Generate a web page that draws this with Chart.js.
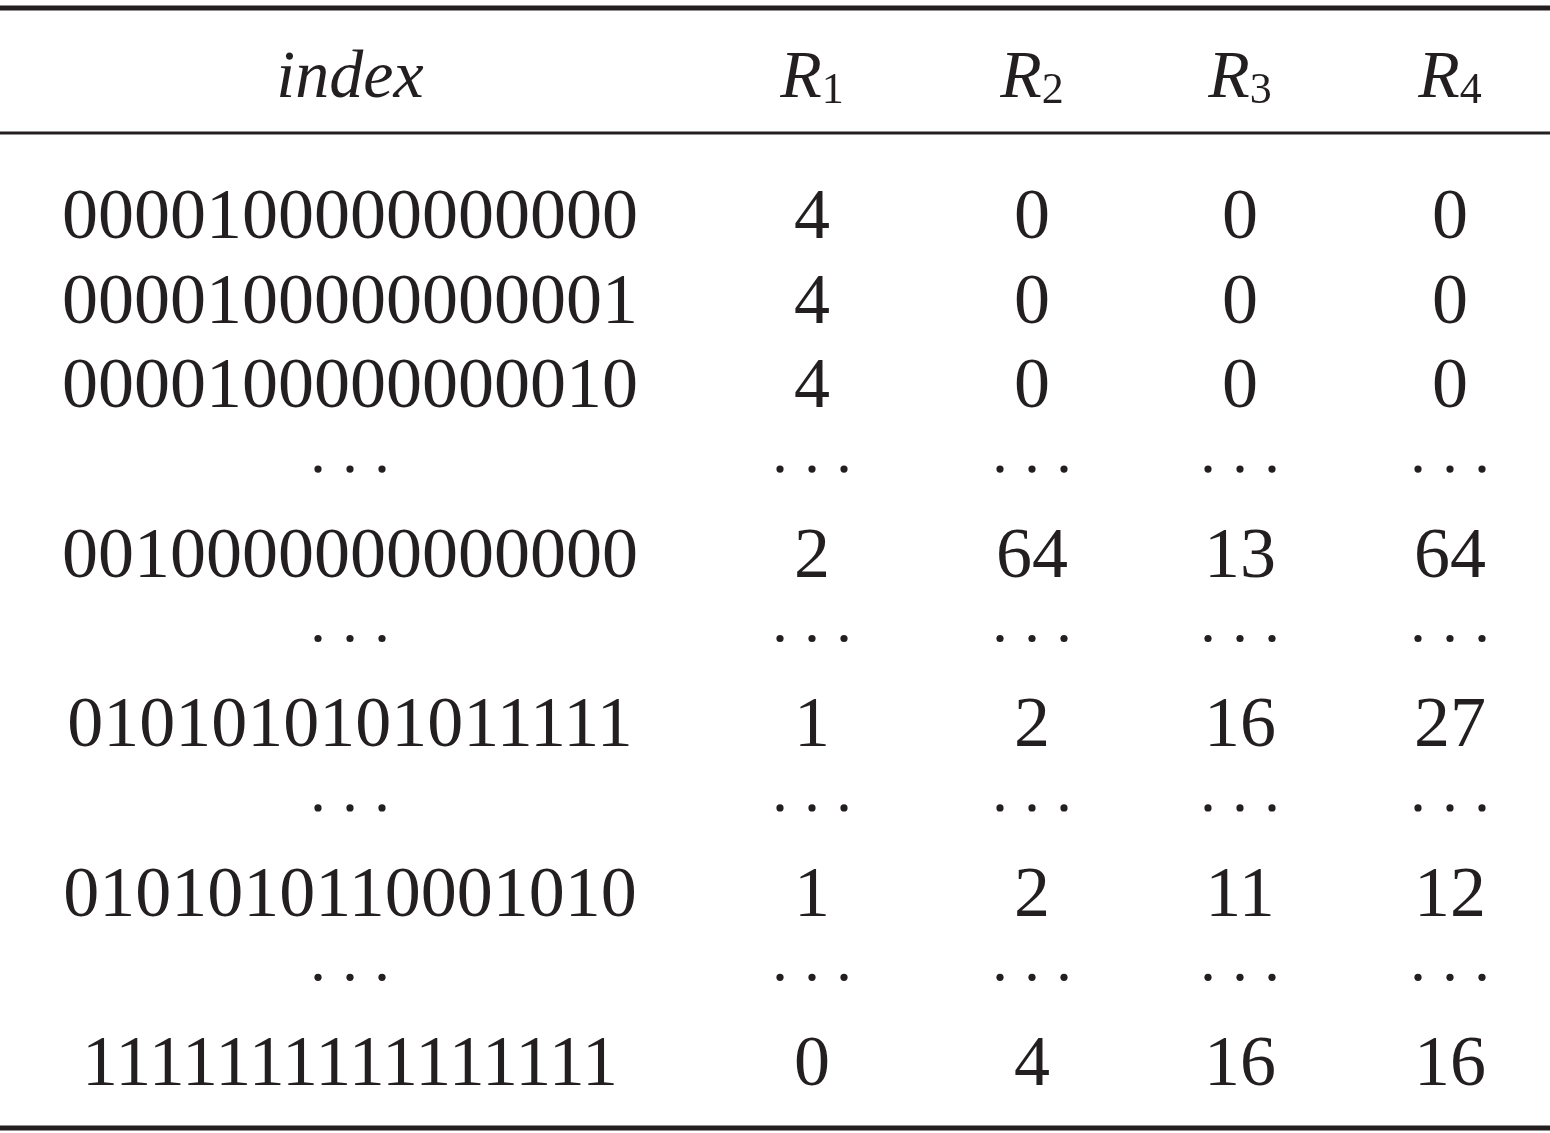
<!DOCTYPE html>
<html>
<head>
<meta charset="utf-8">
<script src="https://cdn.jsdelivr.net/npm/chart.js@4.4.0/dist/chart.umd.min.js"></script>
<style>
  body { margin: 0; background: #fff; }
  canvas { display: block; }
</style>
</head>
<body>
<canvas id="tbl" width="1550" height="1133"></canvas>
<script>
// table data
const headers = ["index", "R", "R", "R", "R"];
const headerSubs = ["", "1", "2", "3", "4"];
const indexCol = ["0000100000000000", "0000100000000001", "0000100000000010", "...",
    "0010000000000000", "...", "0101010101011111", "...", "0101010110001010", "...",
    "1111111111111111"];
const r1 = ["4", "4", "4", "...", "2", "...", "1", "...", "1", "...", "0"];
const r2 = ["0", "0", "0", "...", "64", "...", "2", "...", "2", "...", "4"];
const r3 = ["0", "0", "0", "...", "13", "...", "16", "...", "11", "...", "16"];
const r4 = ["0", "0", "0", "...", "64", "...", "27", "...", "12", "...", "16"];

const columns = [indexCol, r1, r2, r3, r4];
const colX = [350, 812, 1032, 1240, 1450];   // column centres in x-scale units

const ink = "#231f20";

const tablePlugin = {
    id: "tablePlugin",
    afterDraw(chart) {
        const ctx = chart.ctx;
        const xs = chart.scales.x, ys = chart.scales.y;
        ctx.save();
        ctx.fillStyle = ink;
        ctx.strokeStyle = ink;

        // rules
        [[8, 5], [133, 3], [1128, 5]].forEach(([y, w]) => {
            ctx.lineWidth = w;
            ctx.beginPath();
            ctx.moveTo(xs.getPixelForValue(0), ys.getPixelForValue(y));
            ctx.lineTo(xs.getPixelForValue(1550), ys.getPixelForValue(y));
            ctx.stroke();
        });

        // header
        ctx.textBaseline = "alphabetic";
        headers.forEach((h, c) => {
            const x = xs.getPixelForValue(colX[c]);
            const y = ys.getPixelForValue(97);
            ctx.font = "italic 68px 'Liberation Serif'";
            const w1 = ctx.measureText(h).width;
            ctx.font = "44px 'Liberation Serif'";
            const w2 = headerSubs[c] ? ctx.measureText(headerSubs[c]).width : 0;
            const start = x - (w1 + w2) / 2;
            ctx.textAlign = "left";
            ctx.font = "italic 68px 'Liberation Serif'";
            ctx.fillText(h, start, y);
            if (headerSubs[c]) {
                ctx.font = "44px 'Liberation Serif'";
                ctx.fillText(headerSubs[c], start + w1, y + 6);
            }
        });

        // body
        ctx.textAlign = "center";
        columns.forEach((col, c) => {
            col.forEach((v, i) => {
                const x = xs.getPixelForValue(colX[c]);
                const y = ys.getPixelForValue(238 + 84.7 * i);
                if (v === "...") {
                    for (let k = -1; k <= 1; k++) {
                        ctx.beginPath();
                        ctx.arc(x + k * 32, y - 23, 3.6, 0, Math.PI * 2);
                        ctx.fill();
                    }
                } else {
                    ctx.font = "72px 'Liberation Serif'";
                    ctx.fillText(v, x, y);
                }
            });
        });
        ctx.restore();
    }
};

new Chart(document.getElementById("tbl").getContext("2d"), {
    type: "scatter",
    data: { datasets: [{ data: [], pointRadius: 0 }] },
    options: {
        responsive: false,
        devicePixelRatio: 1,
        animation: false,
        layout: { padding: 0 },
        plugins: { legend: { display: false }, tooltip: { enabled: false } },
        scales: {
            x: { type: "linear", min: 0, max: 1550, display: false },
            y: { type: "linear", min: 0, max: 1133, reverse: true, display: false }
        }
    },
    plugins: [tablePlugin]
});
</script>
</body>
</html>
